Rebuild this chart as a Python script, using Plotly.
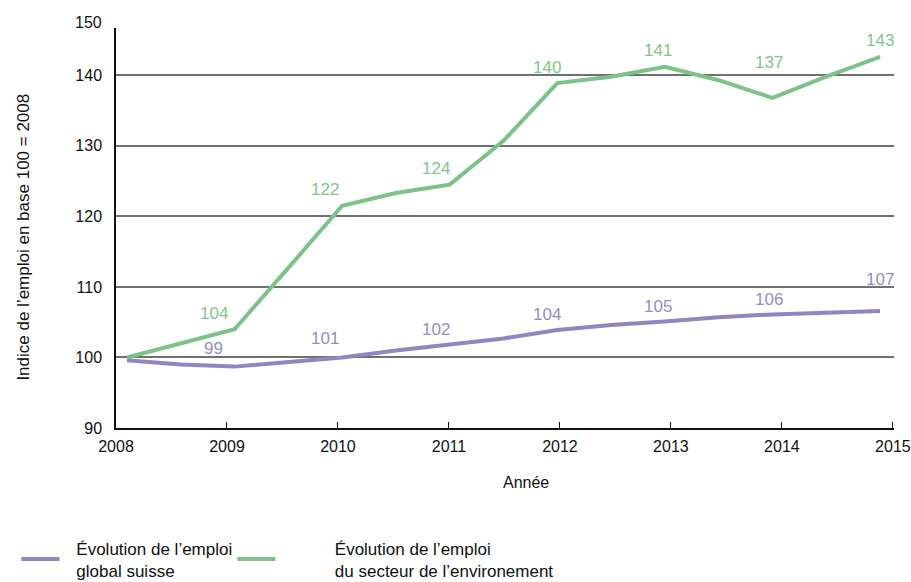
import plotly.graph_objects as go

# ---- data ----
years = [2008, 2008.5, 2009, 2009.5, 2010, 2010.5, 2011, 2011.5, 2012,
         2012.5, 2013, 2013.5, 2014, 2014.5, 2015]
env_sector = [100, 102, 104, 112.7, 121.5, 123.3, 124.5, 130.7, 138.9,
              139.8, 141.2, 139.3, 136.8, 139.8, 142.6]
swiss_total = [99.6, 99.0, 98.7, 99.3, 100.0, 101.0, 101.9, 102.7, 103.9,
               104.6, 105.1, 105.7, 106.1, 106.3, 106.6]

label_years = [2009, 2010, 2011, 2012, 2013, 2014, 2015]
env_labels = [104, 122, 124, 140, 141, 137, 143]
swiss_labels = [99, 101, 102, 104, 105, 106, 107]

tick_years = [2008, 2009, 2010, 2011, 2012, 2013, 2014, 2015]
y_ticks = [90, 100, 110, 120, 130, 140]

GREEN = "#7dc389"
PURPLE = "#8f86c2"
GREEN_TXT = "#82c68d"
PURPLE_TXT = "#968dc6"
FONT = "Liberation Sans"
SP = "\u2002\u2009"                      # gap swatch -> text, first legend
SP2 = "\u2003\u2003\u2002\u2002\u2009"   # wider gap for the second legend

fig = go.Figure()
fig.add_trace(go.Scatter(
    x=years, y=swiss_total, xaxis="x2", mode="lines",
    line=dict(color=PURPLE, width=4), legend="legend",
    name=f"{SP}Évolution de l’emploi<br>{SP}global suisse"))
fig.add_trace(go.Scatter(
    x=years, y=env_sector, xaxis="x2", mode="lines",
    line=dict(color=GREEN, width=4), legend="legend2",
    name=f"{SP2}Évolution de l’emploi<br>{SP2}du secteur de l’environement"))

def val_at(series, yr):
    return series[years.index(yr)]

annotations = []
env_shift = {2014: 35}
swiss_shift = {2015: 31, 2009: 18, 2010: 19}
for yr, lab in zip(label_years, env_labels):
    annotations.append(dict(x=yr, y=val_at(env_sector, yr), xref="x", yref="y",
                            text=str(lab), showarrow=False, xshift=-13,
                            yshift=env_shift.get(yr, 16),
                            font=dict(color=GREEN_TXT, size=17, family=FONT)))
for yr, lab in zip(label_years, swiss_labels):
    annotations.append(dict(x=yr, y=val_at(swiss_total, yr), xref="x", yref="y",
                            text=str(lab), showarrow=False, xshift=-13,
                            yshift=swiss_shift.get(yr, 15),
                            font=dict(color=PURPLE_TXT, size=17, family=FONT)))
# top tick label of the y axis
annotations.append(dict(x=0, y=1, xref="paper", yref="paper", text="150",
                        showarrow=False, xanchor="right", yanchor="middle",
                        xshift=-12, yshift=6,
                        font=dict(color="#111", size=16, family=FONT)))
# axis titles
annotations.append(dict(x=0.527, y=-0.135, xref="paper", yref="paper", text="Année",
                        showarrow=False, xanchor="center", yanchor="middle",
                        font=dict(color="#111", size=16, family=FONT)))
annotations.append(dict(x=-0.119, y=0.477, xref="paper", yref="paper",
                        text="Indice de l’emploi en base 100 = 2008",
                        textangle=-90, showarrow=False,
                        xanchor="center", yanchor="middle",
                        font=dict(color="#111", size=17, family=FONT)))

legend_common = dict(orientation="h", yanchor="top", xanchor="left", y=-0.256,
                     itemwidth=38, valign="middle", bgcolor="rgba(0,0,0,0)",
                     font=dict(size=17, family=FONT, color="#111"))

fig.update_layout(
    width=911, height=582,
    margin=dict(l=116, r=17, t=28, b=154, autoexpand=False),
    paper_bgcolor="white", plot_bgcolor="white",
    font=dict(family=FONT, size=16, color="#111"),
    xaxis=dict(range=[2008, 2015.01], tickvals=tick_years,
               ticks="inside", ticklen=6, tickcolor="#111", tickwidth=1.2,
               showline=True, linecolor="#111", linewidth=1.5,
               showgrid=False, zeroline=False, ticklabelstandoff=3,
               ticklabeloverflow="allow",
               tickfont=dict(size=16, family=FONT, color="#111")),
    xaxis2=dict(range=[2007.898, 2015.13], overlaying="x", visible=False),
    yaxis=dict(range=[90, 146.7], tickvals=y_ticks,
               showline=True, linecolor="#111", linewidth=1.5,
               showgrid=True, gridcolor="#707070", gridwidth=1.5,
               zeroline=False, ticks="", ticklabelstandoff=9,
               tickfont=dict(size=16, family=FONT, color="#111")),
    showlegend=True,
    legend=dict(x=-0.128, **legend_common),
    legend2=dict(x=0.1496, **legend_common),
    annotations=annotations,
)

fig.write_html("out.html")
